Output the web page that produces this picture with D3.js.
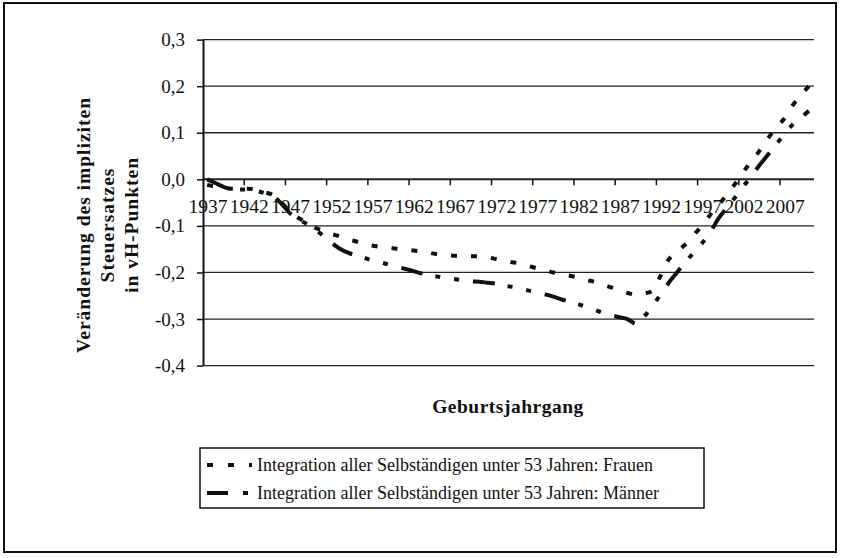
<!DOCTYPE html>
<html>
<head>
<meta charset="utf-8">
<script src="https://cdn.jsdelivr.net/npm/d3@7"></script>
<style>
  body { margin: 0; background: #fff; }
  svg text { font-family: "Liberation Serif", "Times New Roman", serif; fill: #111; }
</style>
</head>
<body>
<svg id="canvas" width="841" height="558"></svg>
<script>
// Geburtsjahrgänge 1937 .. 2010
let years = d3.range(1937, 2011)

let frauen = [
  -0.012, -0.016, -0.018, -0.020, -0.020, -0.020, -0.023, -0.028, -0.034, -0.050,   // 1937-1946
  -0.068, -0.082, -0.092, -0.103, -0.110, -0.117, -0.122, -0.128, -0.133, -0.138,   // 1947-1956
  -0.142, -0.145, -0.147, -0.149, -0.151, -0.153, -0.155, -0.158, -0.161, -0.163,   // 1957-1966
  -0.164, -0.164, -0.165, -0.165, -0.167, -0.171, -0.174, -0.178, -0.181, -0.186,   // 1967-1976
  -0.191, -0.195, -0.200, -0.204, -0.207, -0.211, -0.216, -0.220, -0.226, -0.232,   // 1977-1986
  -0.239, -0.244, -0.248, -0.245, -0.240, -0.207, -0.172, -0.155, -0.140, -0.120,   // 1987-1996
  -0.100, -0.077, -0.056, -0.034, -0.011, 0.015, 0.038, 0.061, 0.087, 0.110,        // 1997-2006
  0.130, 0.158, 0.180, 0.200                                                        // 2007-2010
]

let maenner = [
  0.000, -0.008, -0.016, -0.022, -0.022, -0.022, -0.025, -0.030, -0.036, -0.052,    // 1937-1946
  -0.072, -0.085, -0.095, -0.107, -0.120, -0.135, -0.148, -0.157, -0.163, -0.168,   // 1947-1956
  -0.174, -0.178, -0.183, -0.188, -0.192, -0.197, -0.202, -0.206, -0.209, -0.212,   // 1957-1966
  -0.214, -0.217, -0.219, -0.220, -0.222, -0.224, -0.228, -0.231, -0.235, -0.239,   // 1967-1976
  -0.243, -0.247, -0.252, -0.258, -0.263, -0.268, -0.274, -0.280, -0.287, -0.292,   // 1977-1986
  -0.296, -0.300, -0.310, -0.295, -0.272, -0.248, -0.222, -0.200, -0.178, -0.158,   // 1987-1996
  -0.138, -0.115, -0.085, -0.062, -0.040, -0.016, 0.006, 0.030, 0.052, 0.074,       // 1997-2006
  0.097, 0.117, 0.132, 0.147                                                        // 2007-2010
]

let yTicks = [-0.4, -0.3, -0.2, -0.1, 0, 0.1, 0.2, 0.3]
let xLabelYears = d3.range(1937, 2011, 5)

let legendLabels = [
  'Integration aller Selbständigen unter 53 Jahren: Frauen',
  'Integration aller Selbständigen unter 53 Jahren: Männer'
]

let canvas = d3.select('#canvas')

// deutsches Zahlenformat: Komma und normales Minus
let de = d3.formatLocale({ decimal: ',', thousands: '.', grouping: [3], currency: ['', ' €'], minus: '-' })
let fmt = de.format('.1f')

let x = d3.scaleBand().domain(years).range([203, 813]).padding(0)
let y = d3.scaleLinear().domain([-0.4, 0.3]).range([365.6, 39.6])
let cx = (yr) => x(yr) + x.bandwidth() / 2

// äußerer Rahmen
canvas.append('rect')
  .attr('x', 4).attr('y', 3).attr('width', 832).attr('height', 549)
  .attr('fill', 'none').attr('stroke', '#111').attr('stroke-width', 2)

// Gitterlinien
canvas.append('g')
  .selectAll('line')
  .data(yTicks)
  .enter().append('line')
  .attr('x1', 203).attr('x2', 814)
  .attr('y1', (d) => y(d)).attr('y2', (d) => y(d))
  .attr('stroke', '#222')
  .attr('stroke-width', (d) => d === 0 ? 2 : 1.3)

// y-Achse
let yAxis = d3.axisLeft(y).tickValues(yTicks).tickFormat(fmt).tickSizeInner(6).tickSizeOuter(0).tickPadding(12)
let gy = canvas.append('g').attr('transform', 'translate(203,0)').call(yAxis)
gy.select('.domain').attr('stroke', '#111').attr('stroke-width', 2)
gy.selectAll('.tick line').attr('stroke', '#111').attr('stroke-width', 1.5)
gy.selectAll('.tick text')
  .style('font-family', '"Liberation Serif", serif')
  .style('font-size', '19px').attr('fill', '#111')

// x-Achse: Striche zwischen den Kategorien, Beschriftung in der Mitte
canvas.append('g')
  .selectAll('line')
  .data(xLabelYears.slice(1))
  .enter().append('line')
  .attr('x1', (d) => x(d)).attr('x2', (d) => x(d))
  .attr('y1', y(0)).attr('y2', y(0) + 6)
  .attr('stroke', '#111').attr('stroke-width', 1.5)

canvas.append('g')
  .selectAll('text')
  .data(xLabelYears)
  .enter().append('text')
  .attr('x', (d) => cx(d) + 1)
  .attr('y', 213)
  .attr('text-anchor', 'middle')
  .style('font-size', '19.5px')
  .text((d) => d)

// Linien
let line = d3.line()
  .x((d, i) => cx(years[i]))
  .y((d) => y(d))
  .curve(d3.curveMonotoneX)

canvas.append('path')
  .attr('d', line(frauen))
  .attr('fill', 'none').attr('stroke', '#111')
  .attr('stroke-width', 4)
  .attr('stroke-dasharray', '6,14')

canvas.append('path')
  .attr('d', line(maenner))
  .attr('fill', 'none').attr('stroke', '#111')
  .attr('stroke-width', 4)
  .attr('stroke-dasharray', '22,13,5,14,5,14')

// Achsentitel
canvas.append('text')
  .attr('x', 508).attr('y', 413)
  .attr('text-anchor', 'middle')
  .style('font-size', '19.5px').style('font-weight', 'bold')
  .style('letter-spacing', '0.5px')
  .text('Geburtsjahrgang')

let yTitle = ['Veränderung des impliziten', 'Steuersatzes', 'in vH-Punkten']
canvas.append('g')
  .attr('transform', 'translate(84,225) rotate(-90)')
  .selectAll('text')
  .data(yTitle)
  .enter().append('text')
  .attr('x', 0)
  .attr('y', (d, i) => 6 + i * 24)
  .attr('text-anchor', 'middle')
  .style('font-size', '19.5px').style('font-weight', 'bold')
  .style('letter-spacing', '1px')
  .text((d) => d)

// Legende
let legend = canvas.append('g')
legend.append('rect')
  .attr('x', 200).attr('y', 448).attr('width', 504).attr('height', 60)
  .attr('fill', 'none').attr('stroke', '#111').attr('stroke-width', 1.5)

let dashes = ['6,15', '21,15,5,100']
legend.selectAll('line')
  .data(dashes)
  .enter().append('line')
  .attr('x1', 207).attr('x2', 252)
  .attr('y1', (d, i) => 465 + i * 28).attr('y2', (d, i) => 465 + i * 28)
  .attr('stroke', '#111').attr('stroke-width', 4)
  .attr('stroke-dasharray', (d) => d)

legend.selectAll('text')
  .data(legendLabels)
  .enter().append('text')
  .attr('x', 257)
  .attr('y', (d, i) => 471 + i * 28)
  .style('font-size', '18px')
  .text((d) => d)
</script>
</body>
</html>
